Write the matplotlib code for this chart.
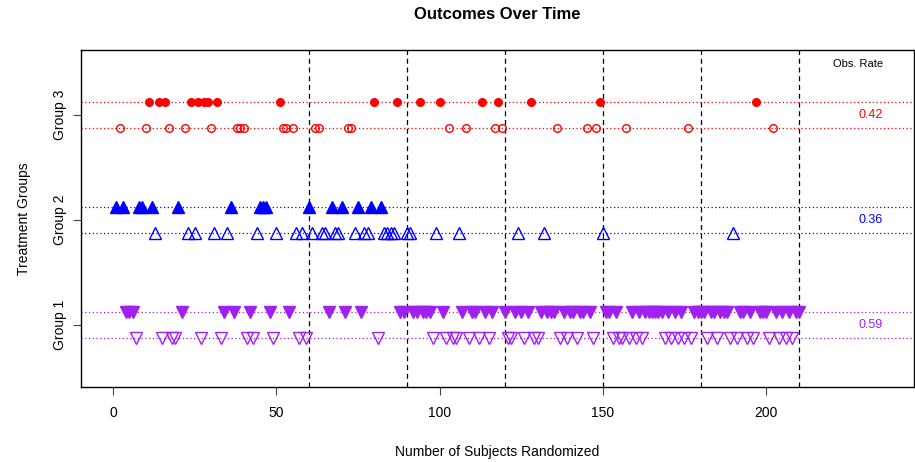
import numpy as np
import matplotlib
matplotlib.use("Agg")
import matplotlib.pyplot as plt

plt.rcParams['font.family'] = ['Liberation Sans', 'DejaVu Sans']

# subject numbers, per group and outcome
g1_event = [4, 5, 6, 21, 34, 37, 42, 48, 54, 66, 71, 76, 88, 89,
            92, 93, 95, 96, 97, 101, 107, 110, 111, 114, 116, 120, 123, 125, 127,
            131, 133, 134, 135, 138, 140, 141, 143, 144, 146, 151, 152, 154,
            159, 161, 163, 164, 165, 166, 167, 168, 170, 172, 174,
            178, 179, 180, 181, 183, 184, 186, 187, 188,
            192, 193, 195, 198, 199, 200, 203, 205, 207, 209, 210]
g1_none = [7, 15, 18, 19, 27, 33, 41, 43, 49, 57, 59, 81, 98, 102, 104, 105,
           109, 112, 115, 121, 122, 126, 129, 130, 137, 139, 142, 147, 153,
           155, 156, 158, 160, 162, 169, 171, 173, 175, 177, 182, 185, 189,
           191, 194, 196, 201, 204, 206, 208]
g2_event = [1, 3, 8, 9, 12, 20, 36, 45, 46, 47, 60, 67, 70, 75, 79, 82]
g2_none = [13, 23, 25, 31, 35, 44, 50, 56, 58, 61, 64, 65, 68, 69, 74, 77, 78,
           83, 84, 85, 86, 90, 91, 99, 106, 124, 132, 150, 190]
g3_event = [11, 14, 16, 24, 26, 28, 29, 32, 51, 80, 87, 94, 100, 113, 118,
            128, 149, 197]
g3_none = [2, 10, 17, 22, 30, 38, 39, 40, 52, 53, 55, 62, 63, 72, 73, 103,
           108, 117, 119, 136, 145, 148, 157, 176, 202]

groups = ["Group 1", "Group 2", "Group 3"]
obs_rate = ["0.59", "0.36", "0.42"]
looks = [60, 90, 120, 150, 180, 210]
xticks = [0, 50, 100, 150, 200]

colors = ["#A020F0", "#0000FF", "#FF0000"]
filled_mk = ["v", "^", "o"]
events = [g1_event, g2_event, g3_event]
nones = [g1_none, g2_none, g3_none]

fig = plt.figure(figsize=(9.15, 4.62), dpi=100)
ax = fig.add_axes([0.0885, 0.1623, 0.9105, 0.7295])

off = 0.125
for i in range(3):
    y = i + 1
    c = colors[i]
    ax.axhline(y + off, color=c, lw=0.9, ls=(0, (1, 2)), zorder=1)
    ax.axhline(y - off, color=c, lw=0.9, ls=(0, (1, 2)), zorder=1)
    ms = 5.5 if filled_mk[i] == "o" else 8
    ax.plot(events[i], [y + off] * len(events[i]), ls="none", marker=filled_mk[i],
            ms=ms, color=c, mec=c, zorder=3)
    ax.plot(nones[i], [y - off] * len(nones[i]), ls="none", marker=filled_mk[i],
            ms=ms, mfc="none", mec=c, mew=1.0, zorder=3)
    ax.text(232, y, obs_rate[i], color=c, fontsize=9, ha="center", va="center")

for v in looks:
    ax.axvline(v, color="black", lw=0.9, ls=(0, (4, 3)), zorder=2)

ax.text(228, 3.49, "Obs. Rate", fontsize=8, ha="center", va="center")

ax.set_xlim(-9.8, 245.3)
ax.set_ylim(0.41, 3.62)
ax.set_xticks(xticks)
ax.set_xticklabels([str(t) for t in xticks], fontsize=10)
ax.set_yticks([1, 2, 3])
ax.set_yticklabels(groups, fontsize=10, rotation=90, va="center")
ax.tick_params(axis="x", direction="out", length=6, width=0.8, color="#444444", pad=8)
ax.tick_params(axis="y", direction="out", length=6, width=0.8, color="#444444", pad=4)
for s in ax.spines.values():
    s.set_linewidth(1.0)

ax.set_xlabel("Number of Subjects Randomized", fontsize=10, labelpad=18)
ax.set_ylabel("Treatment Groups", fontsize=10, labelpad=16)
ax.set_title("Outcomes Over Time", fontsize=12, fontweight="bold", pad=22)

fig.savefig("out.png", dpi=100)
